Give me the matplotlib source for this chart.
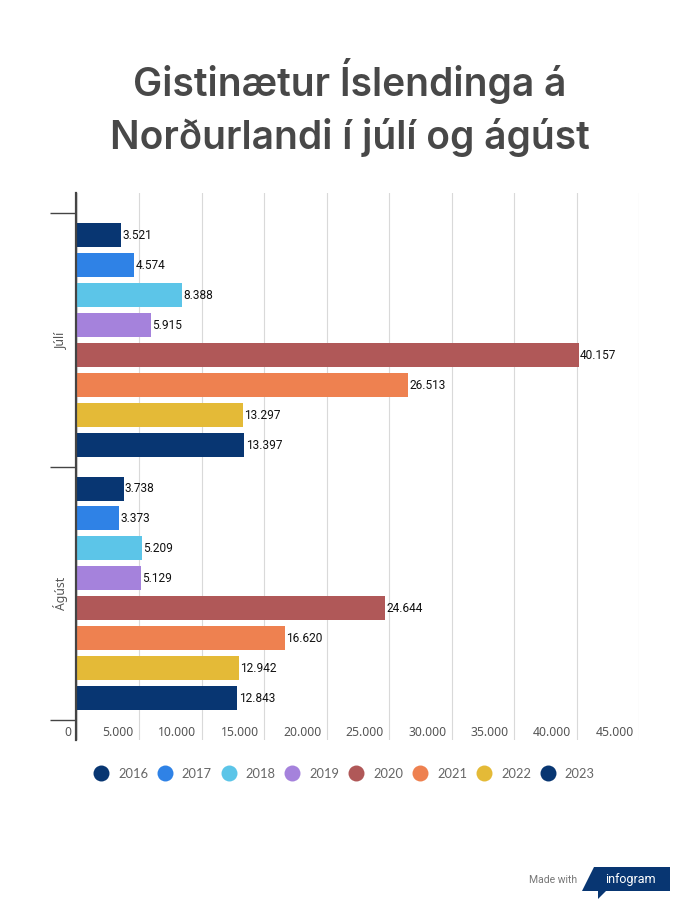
import matplotlib
matplotlib.use("Agg")
import matplotlib.pyplot as plt
import numpy as np
from matplotlib.lines import Line2D
from matplotlib.patches import Polygon
from matplotlib.transforms import ScaledTranslation

W, H = 700, 910

months = ["Júlí", "Ágúst"]
years = ["2016", "2017", "2018", "2019", "2020", "2021", "2022", "2023"]
colors = ["#083672", "#2f82e6", "#5cc5e8", "#a582dc", "#b05858", "#ee8150", "#e4ba37", "#083672"]
juli = [3521, 4574, 8388, 5915, 40157, 26513, 13297, 13397]
agust = [3738, 3373, 5209, 5129, 24644, 16620, 12942, 12843]
xticks = [0, 5000, 10000, 15000, 20000, 25000, 30000, 35000, 40000, 45000]


def fmt(v):
    return f"{v:,}".replace(",", ".")


fig = plt.figure(figsize=(W / 100, H / 100), dpi=100)
ax = fig.add_axes([76.8 / W, 1 - 740 / H, 562.5 / W, (740 - 193) / H])

band = 253.5
pitch = 30 / band
bar_h = 24 / band
for i, vals in enumerate([juli, agust]):
    ys = i + (np.arange(8) - 3.5) * pitch
    ax.barh(ys, vals, height=bar_h, color=colors, zorder=3)
    for y, v in zip(ys, vals):
        ax.annotate(fmt(v), (v, y), xytext=(1, 0), textcoords="offset points",
                    va="center", fontsize=8.6, family="Roboto", color="#111111", zorder=4)

ax.set_xlim(0, 45000)
ax.set_ylim(1.578, -0.58)

ax.set_xticks(xticks)
ax.set_xticklabels([fmt(v) for v in xticks], fontsize=8.8, family="Noto Sans", color="#555555")
ax.tick_params(axis="x", length=0, pad=-10)
shift = ScaledTranslation(-4 / 72, 0, fig.dpi_scale_trans)
for lab in ax.get_xticklabels():
    lab.set_ha("right")
    lab.set_transform(lab.get_transform() + shift)

# category ticks sit on the band edges, labels in the middle
ax.set_yticks([-0.5, 0.5, 1.5])
ax.set_yticklabels([])
ax.tick_params(axis="y", length=18.5, width=1, color="#444444")
for i, m in enumerate(months):
    ax.annotate(m, (0, i), xycoords=("axes fraction", "data"), xytext=(-11.5, 0),
                textcoords="offset points", rotation=90, ha="center", va="center",
                fontsize=8.8, family="Noto Sans", color="#555555")

ax.grid(axis="x", color="#d9d9d9", lw=0.8, zorder=0)
for s in ["top", "right", "bottom"]:
    ax.spines[s].set_visible(False)
ax.spines["left"].set_position(("outward", 0.7))
ax.spines["left"].set_linewidth(1.6)
ax.spines["left"].set_color("#444444")
ax.spines["left"].set_zorder(5)

fig.text(0.5, 1 - 96 / H, "Gistinætur Íslendinga á", ha="center", va="baseline",
         fontsize=28, family="Inter", weight="semibold", color="#484848")
fig.text(0.5, 1 - 149 / H, "Norðurlandi í júlí og ágúst", ha="center", va="baseline",
         fontsize=28, family="Inter", weight="semibold", color="#484848")

handles = [Line2D([], [], ls="", marker="o", ms=11.5, color=c, mec="none") for c in colors]
fig.legend(handles, years, ncol=8, loc="center", bbox_to_anchor=(344 / W, 1 - 774 / H),
           frameon=False, labelcolor="#666666", handletextpad=0.72,
           columnspacing=0.7, handlelength=1.2,
           prop={"family": "Lato", "size": 9.3})

# footer badge
fig.text(577 / W, 1 - 880 / H, "Made with", ha="right", va="center",
         fontsize=7.5, family="Roboto", color="#777777")
badge = [(594, 867), (670, 867), (670, 891), (606, 891), (598, 899), (598, 891), (582, 891)]
fig.add_artist(Polygon([(x / W, 1 - y / H) for x, y in badge], closed=True,
                       transform=fig.transFigure, fc="#083672", ec="none"))
fig.text(630 / W, 1 - 879 / H, "infogram", ha="center", va="center",
         fontsize=9, family="Roboto", color="white")

fig.savefig("out.png", dpi=100)
